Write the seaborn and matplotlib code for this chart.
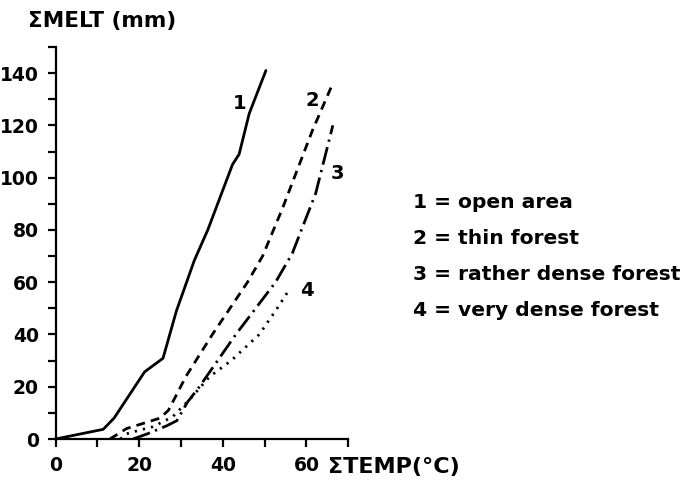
import matplotlib
matplotlib.use("Agg")
import matplotlib.pyplot as plt
import seaborn as sns
import pandas as pd

# ---- data ----
open_x = [0, 11.4, 14, 21.3, 25.7, 28.9, 33.2, 36.4, 42.3, 43.9, 46.3, 50.3]
open_y = [0, 3.7, 8, 25.7, 30.9, 49, 68.4, 80, 105, 109, 124.5, 141]

thin_x = [13, 17, 21, 25, 27, 31.2, 37.5, 45.9, 49.5, 54.2, 61.4, 66]
thin_y = [0, 4, 6, 8, 11, 24, 40, 60, 70, 88, 118, 135]

rather_x = [18.5, 22, 26.5, 29, 31.5, 34.4, 43.1, 52.6, 56.6, 62.2, 66.3]
rather_y = [0, 2, 5, 7, 14, 20, 40, 60, 71, 94, 120]

very_x = [15.5, 17, 20.1, 23.3, 28, 32, 36.8, 42, 48.7, 53, 55.8]
very_y = [0, 2, 3.4, 4.7, 8.5, 15, 23.8, 30, 40, 50, 57]

series_labels = ["1", "2", "3", "4"]
legend_lines = ["1 = open area", "2 = thin forest",
                "3 = rather dense forest", "4 = very dense forest"]
x_ticks = [0, 10, 20, 30, 40, 50, 60, 70]
x_ticklabels = ["0", "", "20", "", "40", "", "60", ""]
y_ticks = list(range(0, 151, 10))
y_ticklabels = [str(v) if v % 20 == 0 and v <= 140 else "" for v in y_ticks]

sns.set_theme(style="ticks")
plt.rcParams["font.family"] = ["DejaVu Sans"]
plt.rcParams["font.weight"] = "bold"
for k in ["text.color", "axes.labelcolor", "xtick.color", "ytick.color",
          "axes.edgecolor"]:
    plt.rcParams[k] = "black"

fig = plt.figure(figsize=(6.94, 4.82), dpi=100)
ax = fig.add_axes([0.080, 0.0892, 0.4219, 0.8133])

lw = 2.0
styles = [
    (open_x, open_y, "-"),
    (thin_x, thin_y, (0, (3.2, 2.2))),
    (rather_x, rather_y, (0, (6.5, 2.0, 0.8, 2.0))),
    (very_x, very_y, (0, (0.8, 2.2))),
]
for xs, ys, ls in styles:
    df = pd.DataFrame({"x": xs, "y": ys})
    sns.lineplot(data=df, x="x", y="y", ax=ax, color="black",
                 linestyle=ls, linewidth=lw, sort=False, estimator=None)

ax.set_xlim(0, 70)
ax.set_ylim(0, 150)
ax.set_xticks(x_ticks)
ax.set_xticklabels(x_ticklabels)
ax.set_yticks(y_ticks)
ax.set_yticklabels(y_ticklabels)
ax.set_xlabel("")
ax.set_ylabel("")
for s in ["top", "right"]:
    ax.spines[s].set_visible(False)
for s in ["left", "bottom"]:
    ax.spines[s].set_linewidth(1.6)
    ax.spines[s].set_color("black")
ax.tick_params(axis="both", direction="out", length=6, width=1.6,
               colors="black", labelsize=13.5, pad=6)
for lab in ax.get_xticklabels() + ax.get_yticklabels():
    lab.set_fontweight("bold")
    lab.set_color("black")

# curve labels
label_pos = [(44.1, 128.5), (61.3, 129.6), (67.4, 101.6), (60.1, 57)]
for (lx, ly), t in zip(label_pos, series_labels):
    ax.text(lx, ly, t, fontsize=14, fontweight="bold", ha="center",
            va="center", color="black")

# axis titles
fig.text(28 / 694, 1 - 21 / 482, "\u03a3MELT (mm)", fontsize=15.5,
         fontweight="bold", ha="left", va="center", color="black")
fig.text(328 / 694, 1 - 467 / 482, "\u03a3TEMP(\u00b0C)", fontsize=16,
         fontweight="bold", ha="left", va="center", color="black")

# legend text
rows_y = [203, 239, 275, 311]
for t, yy in zip(legend_lines, rows_y):
    fig.text(413 / 694, 1 - yy / 482, t, fontsize=14.6, fontweight="bold",
             ha="left", va="center", color="black")

fig.savefig("out.png", dpi=100)
